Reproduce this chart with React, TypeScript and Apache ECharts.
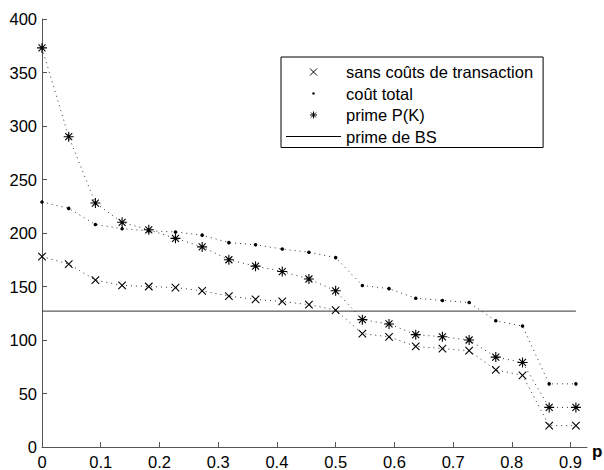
import React, { useEffect, useRef } from "react";
import * as echarts from "echarts";

const pValues = [0, 0.0455, 0.0909, 0.1364, 0.1818, 0.2273, 0.2727, 0.3182, 0.3636, 0.4091, 0.4545, 0.5, 0.5455, 0.5909, 0.6364, 0.6818, 0.7273, 0.7727, 0.8182, 0.8636, 0.9091];
const sansCouts = [178, 171, 156, 151, 150, 149, 146, 141, 138, 136, 133, 128, 106, 103, 94, 92, 90, 72, 67, 20, 20];
const coutTotal = [229, 223, 208, 204, 202, 201, 198, 191, 189, 185, 182, 177, 151, 148, 139, 137, 135, 118, 113, 59, 59];
const primePK = [373, 290, 228, 210, 203, 195, 187, 175, 169, 164, 157, 146, 119, 115, 105, 103, 100, 84, 79, 37, 37];
const primeBS = 127;
const bsRange = [0, 0.9091];
const xTicks = [0, 0.1, 0.2, 0.3, 0.4, 0.5, 0.6, 0.7, 0.8, 0.9];
const seriesNames = ["sans coûts de transaction", "coût total", "prime P(K)", "prime de BS"];
const xAxisName = "p";

const FONT = "'Liberation Sans', Arial, Helvetica, sans-serif";
const CROSS = "path://M0,0L10,10M10,0L0,10";
const STAR = "path://M5,0L5,10M0,5L10,5M1.5,1.5L8.5,8.5M8.5,1.5L1.5,8.5";
const DOT_ICON = "path://M0,0M10,10M3.3,5A1.7,1.7 0 1 0 6.7,5A1.7,1.7 0 1 0 3.3,5Z";
const LINE_ICON = "path://M0,0L55,0L55,1L0,1Z";

const toPairs = (ys: number[]) => ys.map((y, i) => [pValues[i], y]);

export default function App() {
  const ref = useRef<HTMLDivElement>(null);
  useEffect(() => {
    if (!ref.current) return;
    const chart = echarts.init(ref.current, null, { renderer: "svg" });
    const dotted = { color: "#333", width: 1, type: [1, 4] as any };
    const strokeSym = { color: "transparent", borderColor: "#000", borderWidth: 1.1 };
    chart.setOption({
      animation: false,
      backgroundColor: "#fff",
      grid: { left: 42, right: 17, top: 19, bottom: 22 },
      graphic: [
        {
          type: "text",
          left: 592,
          top: 443,
          style: { text: xAxisName, fontFamily: FONT, fontSize: 17, fontWeight: "bold", fill: "#000" },
        },
      ],
      xAxis: {
        type: "value",
        min: 0,
        max: 0.928,
        axisLine: { show: true, lineStyle: { color: "#555", width: 1 } },
        axisTick: { show: true, inside: true, length: 5, customValues: xTicks, lineStyle: { color: "#555" } },
        axisLabel: { customValues: xTicks, fontFamily: FONT, fontSize: 16.5, color: "#000", margin: 6 },
        splitLine: { show: false },
      },
      yAxis: {
        type: "value",
        min: 0,
        max: 400,
        interval: 50,
        axisLine: { show: true, lineStyle: { color: "#555", width: 1 } },
        axisTick: { show: true, inside: true, length: 5, lineStyle: { color: "#555" } },
        axisLabel: { fontFamily: FONT, fontSize: 16.5, color: "#000", margin: 5 },
        splitLine: { show: false },
      },
      legend: {
        left: 281,
        top: 57,
        orient: "vertical",
        padding: [5, 10, 1, 5],
        itemWidth: 55,
        itemHeight: 7,
        itemGap: 1.5,
        borderColor: "#000",
        borderWidth: 1,
        backgroundColor: "#fff",
        selectedMode: false,
        textStyle: { fontFamily: FONT, fontSize: 16.5, color: "#000", lineHeight: 20 },
        data: [
          { name: seriesNames[0], icon: CROSS, itemStyle: { color: "transparent", borderColor: "#000", borderWidth: 1 } },
          { name: seriesNames[1], icon: DOT_ICON, itemStyle: { color: "#000", borderWidth: 0 } },
          { name: seriesNames[2], icon: STAR, itemStyle: { color: "transparent", borderColor: "#000", borderWidth: 1 } },
          { name: seriesNames[3], icon: LINE_ICON, itemStyle: { color: "#000", borderWidth: 0 } },
        ],
      },
      series: [
        {
          name: seriesNames[0],
          type: "line",
          data: toPairs(sansCouts),
          symbol: CROSS,
          symbolSize: 7.5,
          showAllSymbol: true,
          lineStyle: dotted,
          itemStyle: strokeSym,
        },
        {
          name: seriesNames[1],
          type: "line",
          data: toPairs(coutTotal),
          symbol: "circle",
          symbolSize: 3.5,
          showAllSymbol: true,
          lineStyle: dotted,
          itemStyle: { color: "#000", borderWidth: 0 },
        },
        {
          name: seriesNames[2],
          type: "line",
          data: toPairs(primePK),
          symbol: STAR,
          symbolSize: 10,
          showAllSymbol: true,
          lineStyle: dotted,
          itemStyle: strokeSym,
        },
        {
          name: seriesNames[3],
          type: "line",
          data: bsRange.map((x) => [x, primeBS]),
          showSymbol: false,
          symbol: "none",
          lineStyle: { color: "#333", width: 1, type: "solid" },
          itemStyle: { color: "#000" },
        },
      ],
    });
    return () => chart.dispose();
  }, []);
  return <div ref={ref} style={{ position: "fixed", left: 0, top: 0, width: 604, height: 470 }} />;
}
